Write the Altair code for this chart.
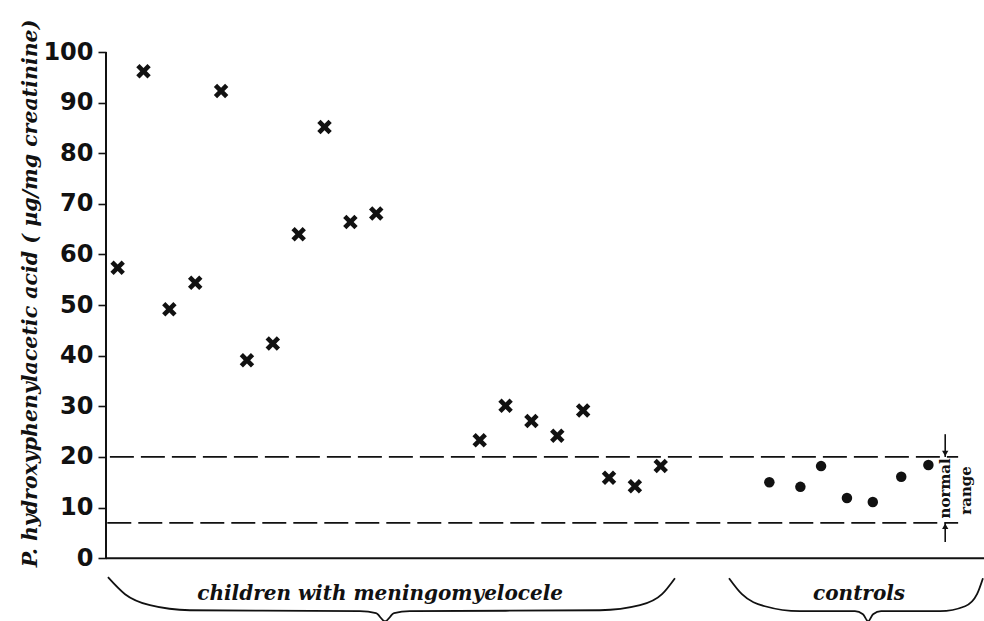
import altair as alt
import pandas as pd

# ---- data ----
child_pos = [0, 1, 2, 3, 4, 5, 6, 7, 8, 9, 10, 14, 15, 16, 17, 18, 19, 20, 21]
child_vals = [57.4, 96.2, 49.2, 54.4, 92.3, 39.1, 42.4, 64.0, 85.2, 66.4, 68.1,
              23.3, 30.1, 27.1, 24.2, 29.2, 15.9, 14.2, 18.2]
control_pos = [25.2, 26.4, 27.2, 28.2, 29.2, 30.3, 31.35]
control_vals = [15.0, 14.1, 18.2, 11.9, 11.1, 16.1, 18.4]

normal_low = 7
normal_high = 20
y_ticks = [0, 10, 20, 30, 40, 50, 60, 70, 80, 90, 100]
y_title = "P. hydroxyphenylacetic acid ( µg/mg creatinine)"
group_labels = ["children with meningomyelocele", "controls"]
group_label_x = [10.15, 28.67]

# brace outlines (x position, value units)
brace_child_x = [-0.375, 0.286, 1.249, 2.796, 9.37, 9.99, 10.34, 10.69, 11.30, 18.65, 20.20, 21.05, 21.55]
brace_child_y = [-3.75, -7.11, -9.29, -10.28, -10.47, -10.87, -12.45, -10.87, -10.47, -10.28, -9.29, -7.11, -3.95]
brace_ctrl_x = [23.64, 24.14, 25.03, 26.38, 28.51, 28.82, 29.02, 29.21, 29.52, 31.80, 32.77, 33.23, 33.46]
brace_ctrl_y = [-3.95, -7.11, -9.49, -10.47, -10.47, -11.07, -12.45, -11.07, -10.47, -10.47, -9.49, -7.11, -3.95]

X_MIN, X_MAX = -0.45, 33.5
Y_MIN, Y_MAX = -12.6, 100

xs = alt.Scale(domain=[X_MIN, X_MAX], nice=False, zero=False)
ys = alt.Scale(domain=[Y_MIN, Y_MAX], nice=False, zero=False)

FONT_HAND = "DejaVu Serif"
INK = "#111111"

children = pd.DataFrame({"x": child_pos, "y": child_vals})
controls = pd.DataFrame({"x": control_pos, "y": control_vals})

cross_path = ("M-1,-0.55 L-0.55,-1 L0,-0.45 L0.55,-1 L1,-0.55 L0.45,0 "
              "L1,0.55 L0.55,1 L0,0.45 L-0.55,1 L-1,0.55 L-0.45,0 Z")

yaxis = alt.Axis(values=y_ticks, domain=False, grid=False, ticks=True,
                 tickSize=8, tickWidth=1.6, tickColor=INK,
                 labelFont="DejaVu Sans", labelFontWeight="bold", labelFontSize=24,
                 labelColor=INK, labelPadding=5,
                 title=y_title, titleFont=FONT_HAND, titleFontStyle="italic",
                 titleFontWeight="bold", titleFontSize=20.5, titleColor=INK,
                 titleAngle=270, titleX=-70, titleY=241, titleAlign="center",
                 titleBaseline="alphabetic")


def X(field="x"):
    return alt.X(f"{field}:Q", scale=xs, axis=None)


def Y(field="y"):
    return alt.Y(f"{field}:Q", scale=ys, axis=yaxis)


cross_layer = alt.Chart(children).mark_point(
    shape=cross_path, filled=True, color=INK, size=210, opacity=1
).encode(x=X(), y=Y())

dot_layer = alt.Chart(controls).mark_circle(color=INK, size=110, opacity=1).encode(
    x=X(), y=Y()
)

# axis lines
axes_df = pd.DataFrame({
    "x": [X_MIN, X_MIN], "x2": [X_MIN, X_MAX],
    "y": [0, 0], "y2": [100, 0],
})
axes_layer = alt.Chart(axes_df).mark_rule(color=INK, strokeWidth=2).encode(
    x=X(), x2="x2:Q", y=Y(), y2="y2:Q",
)

# dashed normal range limits
dash_df = pd.DataFrame({"x": [-0.3, -0.4], "x2": [32.5, 32.5],
                        "y": [normal_high, normal_low]})
dash_layer = alt.Chart(dash_df).mark_rule(
    color=INK, strokeWidth=1.8, strokeDash=[24, 7]
).encode(x=X(), x2="x2:Q", y=Y())

# normal range arrow
arrow_x = 32.0
arrow_df = pd.DataFrame({"x": [arrow_x, arrow_x], "y": [24.5, normal_low],
                         "y2": [normal_high, 3.2]})
arrow_line = alt.Chart(arrow_df).mark_rule(color=INK, strokeWidth=1.6).encode(
    x=X(), y=Y(), y2="y2:Q",
)
head_df = pd.DataFrame({"x": [arrow_x, arrow_x], "y": [normal_high + 0.7, normal_low - 0.7],
                        "shape": ["triangle-down", "triangle-up"]})
arrow_heads = alt.Chart(head_df).mark_point(filled=True, color=INK, size=40, opacity=1).encode(
    x=X(), y=Y(),
    shape=alt.Shape("shape:N", scale=None, legend=None),
)
range_df = pd.DataFrame({"x": [arrow_x, 32.8], "y": [13.8, 13.4], "t": ["normal", "range"]})
range_text = alt.Chart(range_df).mark_text(
    angle=270, font=FONT_HAND, fontSize=15, fontWeight="bold", color=INK,
    align="center", baseline="middle"
).encode(x=X(), y=Y(), text="t:N")

# braces
brace_df = pd.concat([
    pd.DataFrame({"x": brace_child_x, "y": brace_child_y, "g": "a",
                  "o": list(range(len(brace_child_x)))}),
    pd.DataFrame({"x": brace_ctrl_x, "y": brace_ctrl_y, "g": "b",
                  "o": list(range(len(brace_ctrl_x)))}),
])
brace_layer = alt.Chart(brace_df).mark_line(
    color=INK, strokeWidth=1.8, interpolate="monotone"
).encode(x=X(), y=Y(), detail="g:N", order="o:Q")

label_df = pd.DataFrame({"x": group_label_x, "y": [-7.1, -7.1], "t": group_labels})
label_layer = alt.Chart(label_df).mark_text(
    font=FONT_HAND, fontStyle="italic", fontWeight="bold", fontSize=20, color=INK,
    align="center", baseline="middle"
).encode(x=X(), y=Y(), text="t:N")

chart = alt.layer(
    cross_layer, dash_layer, axes_layer, brace_layer, label_layer,
    arrow_line, arrow_heads, range_text, dot_layer
).properties(
    width=878, height=570,
    autosize=alt.AutoSizeParams(type="none"),
    padding={"left": 106, "top": 52, "right": 0, "bottom": 0},
    background="white",
).configure_view(stroke=None)

chart.save("out.html", embed_options={"renderer": "svg", "actions": False})
